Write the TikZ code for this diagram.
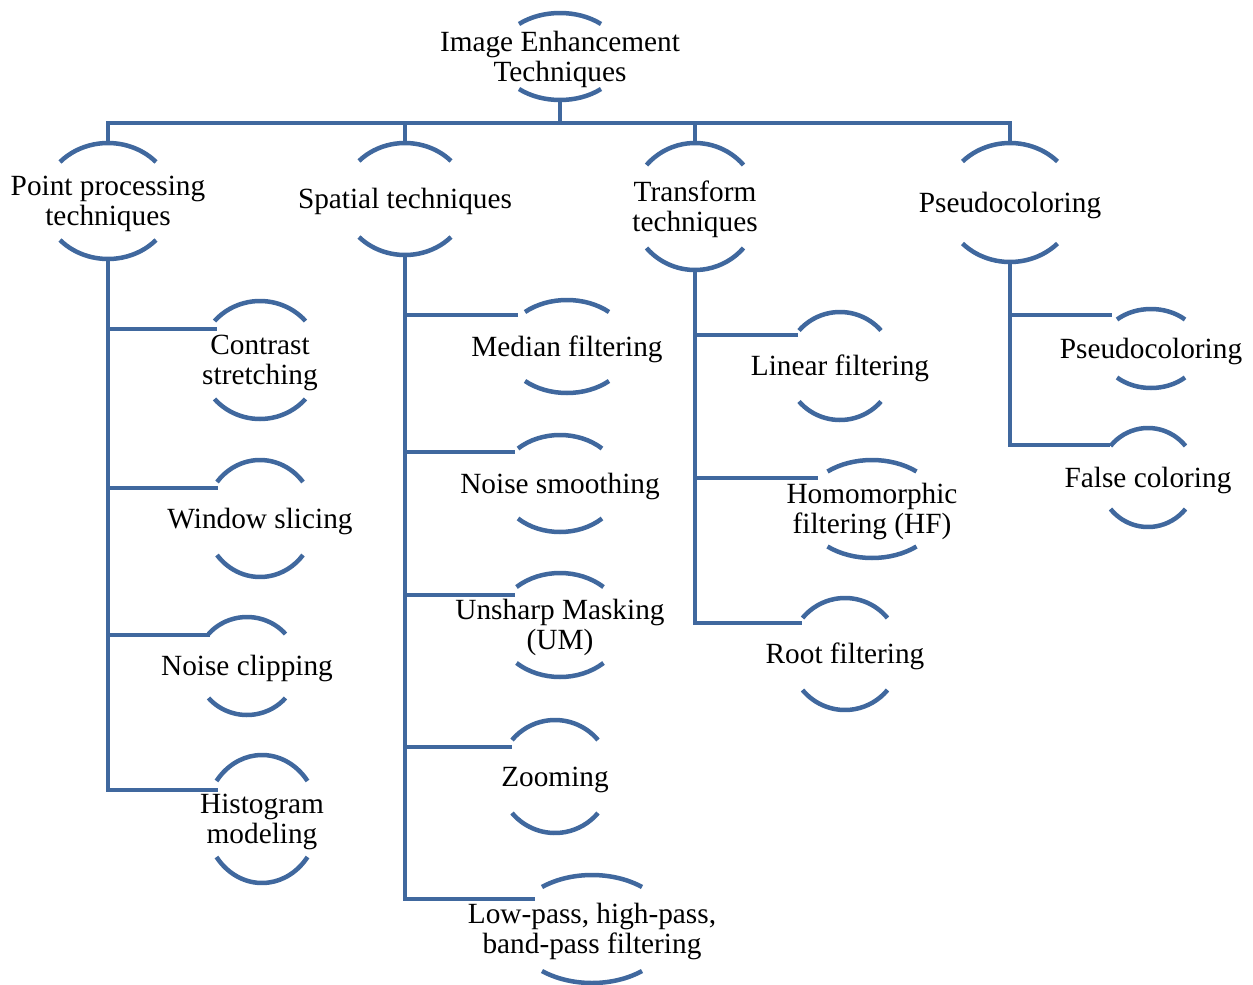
\documentclass[tikz,border=0pt]{standalone}
\usepackage{fontspec}
\setmainfont{Liberation Serif}
\usetikzlibrary{calc}
\definecolor{treeblue}{RGB}{64,104,158}

\tikzset{
  lens/.style={inner sep=0pt, minimum width=10pt, align=center,
               font=\fontsize{29.3}{30}\selectfont},
  lensarc/.style={draw=treeblue, line width=4.5pt, line cap=butt},
  conn/.style={draw=treeblue, line width=4pt, line join=miter}
}

% name, centre x, centre y (downwards), half height, half chord, sagitta, label
\newcommand\lensnode[7]{%
  \node[lens, minimum height=#4*2pt] (#1) at (#2,-#3)
    {\rule{0pt}{26pt}#7\rule[-6.5pt]{0pt}{6.5pt}};
  \pgfmathsetmacro\lensang{asin(1-#6/#4)}%
  \pgfmathsetmacro\lensrad{#5/cos(\lensang)}%
  \draw[lensarc] (#2+#5,-#3+#4-#6) arc[start angle=\lensang, end angle=180-\lensang,
      x radius=\lensrad pt, y radius=#4pt];
  \draw[lensarc] (#2-#5,-#3-#4+#6) arc[start angle=180+\lensang, end angle=360-\lensang,
      x radius=\lensrad pt, y radius=#4pt];
}

\begin{document}
\begin{tikzpicture}[x=1pt, y=1pt]
  \fill[white] (0,0) rectangle (1253,-985);
  \useasboundingbox (0,0) rectangle (1253,-985);

  % root and first level
  \lensnode{iet}{560}{56.5}{43.5}{41}{11}{Image Enhancement\\Techniques}
  \lensnode{pp}{108}{201}{58}{48}{19}{Point processing\\techniques}
  \lensnode{sp}{405}{199}{56}{46}{18}{Spatial techniques}
  \lensnode{tr}{695}{206.5}{63.5}{48.5}{22}{Transform\\techniques}
  \lensnode{ps}{1010}{202.5}{59.5}{47.5}{18.5}{Pseudocoloring}

  % point processing branch
  \lensnode{cs}{260}{360}{59}{45.5}{20}{Contrast\\stretching}
  \lensnode{ws}{260}{518.5}{58.5}{43}{22}{Window slicing}
  \lensnode{nc}{247}{666}{49}{38.5}{17}{Noise clipping}
  \lensnode{hm}{262}{819}{64}{45.5}{26}{Histogram\\modeling}

  % spatial branch
  \lensnode{mf}{567}{346.5}{46.5}{42}{12}{Median filtering}
  \lensnode{ns}{560}{483.5}{48.5}{42}{13.5}{Noise smoothing}
  \lensnode{um}{560}{625}{52}{43.5}{14}{Unsharp Masking\\(UM)}
  \lensnode{zo}{555}{776.5}{56.5}{43}{20}{Zooming}
  \lensnode{lp}{592}{929}{54}{50}{12}{Low-pass, high-pass,\\band-pass filtering}

  % transform branch
  \lensnode{lf}{840}{366}{54}{41}{18.5}{Linear filtering}
  \lensnode{hf}{872}{509}{49}{44.5}{11.5}{Homomorphic\\filtering (HF)}
  \lensnode{rf}{845}{654}{56}{42.5}{20}{Root filtering}

  % pseudocoloring branch
  \lensnode{pc}{1151}{348.5}{39.5}{34}{10.5}{Pseudocoloring}
  \lensnode{fc}{1148}{477.5}{49.5}{37.5}{18}{False coloring}

  % connector end points
  \coordinate (bus) at (560,-123);
  \coordinate (cs-in) at (217,-329);
  \coordinate (ws-in) at (218,-488);
  \coordinate (nc-in) at (210,-635);
  \coordinate (hm-in) at (218,-790);
  \coordinate (mf-in) at (518,-315);
  \coordinate (ns-in) at (515,-452);
  \coordinate (um-in) at (515,-595);
  \coordinate (zo-in) at (512,-747);
  \coordinate (lp-in) at (535,-899);
  \coordinate (lf-in) at (798,-335);
  \coordinate (hf-in) at (818,-478);
  \coordinate (rf-in) at (802,-623);
  \coordinate (pc-in) at (1112,-315);
  \coordinate (fc-in) at (1110,-445);

  % top bus
  \draw[conn] (iet.south) -- (iet.south |- bus);
  \draw[conn] (pp.north) |- (ps.north |- bus) -- (ps.north);
  \draw[conn] (sp.north) -- (sp.north |- bus);
  \draw[conn] (tr.north) -- (tr.north |- bus);

  % branch trunks
  \draw[conn] (pp.south) |- (hm-in);
  \draw[conn] (pp.south |- cs-in) -- (cs-in);
  \draw[conn] (pp.south |- ws-in) -- (ws-in);
  \draw[conn] (pp.south |- nc-in) -- (nc-in);

  \draw[conn] (sp.south) |- (lp-in);
  \draw[conn] (sp.south |- mf-in) -- (mf-in);
  \draw[conn] (sp.south |- ns-in) -- (ns-in);
  \draw[conn] (sp.south |- um-in) -- (um-in);
  \draw[conn] (sp.south |- zo-in) -- (zo-in);

  \draw[conn] (tr.south) |- (rf-in);
  \draw[conn] (tr.south |- lf-in) -- (lf-in);
  \draw[conn] (tr.south |- hf-in) -- (hf-in);

  \draw[conn] (ps.south) |- (fc-in);
  \draw[conn] (ps.south |- pc-in) -- (pc-in);
\end{tikzpicture}
\end{document}
